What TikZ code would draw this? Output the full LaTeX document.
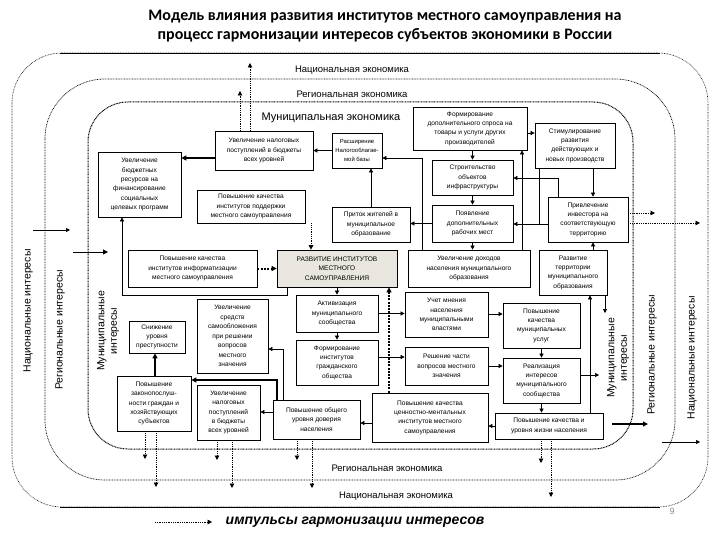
\documentclass[tikz,border=0pt]{standalone}
\usepackage{fontspec}
\setmainfont{Liberation Sans}
\newfontfamily\titlefont{Carlito}
\usetikzlibrary{arrows.meta}
\definecolor{corefill}{HTML}{E8E6DE}
\tikzset{
  bx/.style={draw, line width=0.7pt, align=center, fill=white, inner sep=1pt,
    font=\fontsize{6.6}{9.3}\selectfont},
  con/.style={line width=0.6pt, -{Triangle[length=4pt,width=4pt]}},
  thk/.style={line width=1.3pt, -{Triangle[length=5pt,width=5pt]}},
  imp/.style={line width=0.9pt, dash pattern=on 0.9pt off 0.9pt, -{Triangle[length=4.5pt,width=4.5pt]}},
  impthk/.style={line width=2pt, dash pattern=on 2pt off 1.3pt, -{Triangle[length=5pt,width=5pt]}},
  frameA/.style={line width=0.6pt, dash pattern=on 0.7pt off 0.9pt},
  frameB/.style={line width=0.7pt, dash pattern=on 0.8pt off 0.8pt},
  frameC/.style={line width=1pt, dash pattern=on 0.9pt off 0.7pt},
  lab/.style={font=\fontsize{9.5}{11}\selectfont},
  labM/.style={font=\fontsize{11}{13}\selectfont},
  vlab/.style={font=\fontsize{10.5}{12.5}\selectfont, rotate=90, align=center},
}
\begin{document}
\begin{tikzpicture}[x=1pt,y=-1pt]
\useasboundingbox (0,0) rectangle (720,540);
\fill[white] (0,0) rectangle (720,540);

% title
\node[font=\titlefont\bfseries\fontsize{16}{19}\selectfont, align=center] (title) at (385,26)
  {Модель влияния развития институтов местного самоуправления на\\процесс гармонизации интересов субъектов экономики в России};

% frames
\draw[frameA, rounded corners=50] (12,53) rectangle (708,507);
\draw[line width=0.7pt] (60,53) -- (660,53) (60,507) -- (660,507);
\draw[frameB, rounded corners=60] (45,79) rectangle (675,480);
\draw[frameC, rounded corners=40] (88,102) rectangle (633,449);

% frame labels
\node[lab] (natT) at (352,70) {Национальная экономика};
\node[lab] (regT) at (352,94) {Региональная экономика};
\node[labM] (munT) at (331,118) {Муниципальная экономика};
\node[lab] (regB) at (387,468) {Региональная экономика};
\node[lab] (natB) at (396,496) {Национальная экономика};

\node[vlab] (natL) at (28,311) {Национальные интересы};
\node[vlab] (regL) at (60,330) {Региональные интересы};
\node[vlab] (munL) at (108,331) {Муниципальные\\интересы};
\node[vlab] (munR) at (618,358) {Муниципальные\\интересы};
\node[vlab] (regR) at (652,355) {Региональные интересы};
\node[vlab] (natR) at (692,358) {Национальные интересы};

% boxes
\node[bx, minimum width=98, minimum height=39] (B1) at (264,150.5) {Увеличение налоговых\\поступлений в бюджеты\\всех уровней};
\node[bx, minimum width=83, minimum height=65] (B2) at (139.5,184.5) {Увеличение\\бюджетных\\ресурсов на\\финансирование\\социальных\\целевых программ};
\node[bx, minimum width=108, minimum height=33] (B3) at (251,206.5) {Повышение качества\\институтов поддержки\\местного самоуправления};
\node[bx, minimum width=50, minimum height=35, font=\fontsize{5.9}{9}\selectfont] (B4) at (357,150.5) {Расширение\\Налогооблагае-\\мой базы};
\node[bx, minimum width=114, minimum height=43] (B5) at (470,128.5) {Формирование\\дополнительного спроса на\\товары и услуги других\\производителей};
\node[bx, minimum width=81, minimum height=35] (B6) at (472.5,177.5) {Строительство\\объектов\\инфраструктуры};
\node[bx, minimum width=80, minimum height=45] (B7) at (575,145.5) {Стимулирование\\развития\\действующих и\\новых производств};
\node[bx, minimum width=80, minimum height=45] (B8) at (588,219.5) {Привлечение\\инвестора на\\соответствующую\\территорию};
\node[bx, minimum width=78, minimum height=35] (B9) at (371,224.5) {Приток жителей в\\муниципальное\\образование};
\node[bx, minimum width=81, minimum height=37] (B10) at (472.5,223.5) {Появление\\дополнительных\\рабочих мест};
\node[bx, minimum width=129, minimum height=37] (B11) at (192.5,268.5) {Повышение качества\\институтов информатизации\\местного самоуправления};
\node[bx, minimum width=120, minimum height=37, fill=corefill] (B12) at (337,268.5) {РАЗВИТИЕ ИНСТИТУТОВ\\МЕСТНОГО\\САМОУПРАВЛЕНИЯ};
\node[bx, minimum width=122, minimum height=37] (B13) at (469,268.5) {Увеличение доходов\\населения муниципального\\образования};
\node[bx, minimum width=68, minimum height=45] (B14) at (573,272.5) {Развитие\\территории\\муниципального\\образования};
\node[bx, minimum width=56, minimum height=32] (B15) at (157,337) {Снижение\\уровня\\преступности};
\node[bx, minimum width=71, minimum height=74, font=\fontsize{6.6}{9.5}\selectfont] (B16) at (232.5,336) {Увеличение\\средств\\самообложения\\при решении\\вопросов\\местного\\значения};
\node[bx, minimum width=74, minimum height=55] (B17) at (154,403.5) {Повышение\\законопослуш-\\ности граждан и\\хозяйствующих\\субъектов};
\node[bx, minimum width=63, minimum height=55] (B18) at (228.5,412.5) {Увеличение\\налоговых\\поступлений\\в бюджеты\\всех уровней};
\node[bx, minimum width=82, minimum height=37] (B19) at (337,313.5) {Активизация\\муниципального\\сообщества};
\node[bx, minimum width=82, minimum height=45] (B20) at (337,362.5) {Формирование\\институтов\\гражданского\\общества};
\node[bx, minimum width=83, minimum height=45] (B21) at (446.5,314.5) {Учет мнения\\населения\\муниципальными\\властями};
\node[bx, minimum width=83, minimum height=38] (B22) at (446.5,366) {Решение части\\вопросов местного\\значения};
\node[bx, minimum width=87, minimum height=39] (B23) at (316.5,419.5) {Повышение общего\\уровня доверия\\населения};
\node[bx, minimum width=116, minimum height=49] (B24) at (430,417.5) {Повышение качества\\ценностно-ментальных\\институтов местного\\самоуправления};
\node[bx, minimum width=77, minimum height=45] (B25) at (541.5,325.5) {Повышение\\качества\\муниципальных\\услуг};
\node[bx, minimum width=77, minimum height=45] (B26) at (541.5,380.5) {Реализация\\интересов\\муниципального\\сообщества};
\node[bx, minimum width=108, minimum height=26] (B27) at (549,426) {Повышение качества и\\уровня жизни населения};

% solid connectors
\draw[thk] (B1.west |- 0,158) -- (B2.east |- 0,158);
\draw[con] (B4.west) -- (B1.east |- B4.west);
\draw[con] (B6.north |- B5.south) -- (B6.north);
\draw[con] (B6.south) -- (B10.north);
\draw[con] (B10.south) -- (B10.south |- B13.north);
\draw[con] (B10.west) -- (B9.east |- B10.west);
\draw[con] (B9.north) -- (B9.north |- B4.south);
\draw[con] (B13.north -| 422,0) -- (422,158) -- (B4.east |- 0,158);
\draw[con] (B13.north -| 522,0) -- (B5.south -| 522,0);
\draw[con] (B5.east |- 0,133) -- (B7.west |- 0,133);
\draw[con] (B7.south -| 593,0) -- (B8.north -| 593,0);
\draw[con] (B8.north -| 558,0) -- (558,178) -- (B6.east |- 0,178);
\draw[con] (B8.west |- 0,224) -- (B10.east |- 0,224);
\draw[line width=0.6pt] (B7.south -| 539,0) -- (539,224);
\draw[con] (B14.north -| 593,0) -- (B8.south -| 593,0);
\draw[con] (B27.north -| 590,0) -- (B14.south -| 590,0);
\coordinate (fr1) at (605,313);
\draw[con] (B14.south -| fr1) -- (fr1);
\coordinate (fr2) at (599,375);
\draw[con] (B26.east |- fr2) -- (fr2);
\draw[con] (B12.south) -- (B19.north);
\draw[con] (B19.south) -- (B20.north);
\draw[con] (B19.east) -- (B21.west |- B19.east);
\draw[con] (B20.east |- 0,357) -- (B22.west |- 0,357);
\draw[con] (B21.east |- 0,314) -- (B25.west |- 0,314);
\draw[con] (B22.east |- 0,366) -- (B26.west |- 0,366);
\draw[con] (B25.south) -- (B26.north);
\draw[con] (B26.south) -- (B26.south |- B27.north);
\draw[con] (B27.west) -- (B24.east |- B27.west);
\draw[con] (B24.west |- 0,423) -- (B23.east |- 0,423);
\draw[con] (B23.west |- 0,412) -- (B18.east |- 0,412);
\draw[con] (B23.north -| 283,0) -- (283,349) -- (B16.east |- 0,349);
\draw[thk] (B23.north -| 277,0) -- (277,380) -- (B17.east |- 0,380);
\draw[thk] (B17.north -| 155,0) -- (B15.south -| 155,0);
\draw[con] (B12.south -| 287,0) -- (287,295) -- (122,295) -- (B2.south -| 122,0);

% interest arrows
\coordinate (la1) at (33,230); \coordinate (la2) at (70,230);
\coordinate (lb1) at (73,252); \coordinate (lb2) at (108,252);
\coordinate (ra1) at (612,424); \coordinate (ra2) at (648,424);
\coordinate (rb1) at (662,442); \coordinate (rb2) at (700,442);
\draw[con] (la1) -- (la2);
\draw[line width=1pt, -{Triangle[length=5pt,width=5pt]}] (lb1) -- (lb2);
\draw[thk] (ra1) -- (ra2);
\draw[con] (rb1) -- (rb2);

% impulses (dotted)
\draw[impthk] (B11.east) -- (B12.west);
\draw[imp] (B3.south -| 311,0) -- (B12.north -| 311,0);
\draw[impthk] (B24.north -| 389,0) -- (B12.south -| 389,0);
\coordinate (u1) at (240,91); \coordinate (u2) at (250,63);
\draw[imp] (B1.north -| u1) -- (u1);
\draw[imp] (B1.north -| u2) -- (u2);
\coordinate (r1) at (655,213); \coordinate (r2) at (700,223);
\draw[imp] (B8.east |- r1) -- (r1);
\draw[imp] (B8.east |- r2) -- (r2);
\coordinate (d1) at (145,459); \coordinate (d2) at (156,487);
\coordinate (d3) at (217,460); \coordinate (d4) at (232,488);
\coordinate (d5) at (297,460); \coordinate (d6) at (312,488);
\coordinate (d7) at (541,463); \coordinate (d8) at (551,497);
\draw[imp] (B17.south -| d1) -- (d1);
\draw[imp] (B17.south -| d2) -- (d2);
\draw[imp] (B18.south -| d3) -- (d3);
\draw[imp] (B18.south -| d4) -- (d4);
\draw[imp] (B23.south -| d5) -- (d5);
\draw[imp] (B23.south -| d6) -- (d6);
\draw[imp] (B27.south -| d7) -- (d7);
\draw[imp] (B27.south -| d8) -- (d8);

% legend
\node[font=\bfseries\itshape\fontsize{14}{16}\selectfont] (lgt) at (355,522) {импульсы гармонизации интересов};
\coordinate (lg1) at (155,522);
\draw[imp] (lg1) -- ([xshift=-10pt]lgt.west);
\node[font=\fontsize{9}{11}\selectfont, text=black!45] (pg) at (672,511) {9};
\end{tikzpicture}
\end{document}
